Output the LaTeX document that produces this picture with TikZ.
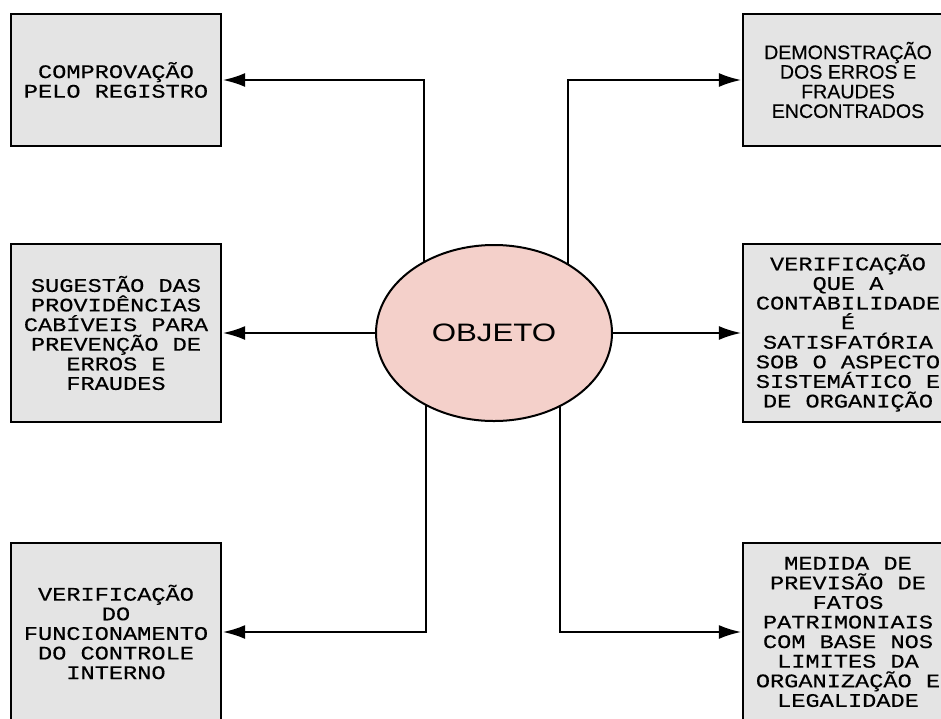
\documentclass[tikz,border=0pt]{standalone}
\usepackage{fontspec}
\newfontfamily\monofam[FakeStretch=1.23,FakeBold=0.4]{Liberation Mono}
\newfontfamily\sansfam[FakeBold=0.3]{Liberation Sans}
\newfontfamily\objfam[FakeStretch=1.24]{Liberation Sans}
\usetikzlibrary{shapes.geometric,arrows.meta,backgrounds}
\definecolor{boxgray}{RGB}{228,228,228}
\definecolor{objpink}{RGB}{244,208,202}

\tikzset{every picture/.style={line width=0.75pt}}
\tikzset{
  itembox/.style={draw, line width=2.2pt, fill=boxgray, minimum width=157.5pt, inner sep=0pt, align=center,
    font={\monofam\fontsize{14.4}{14.7}\selectfont}},
  sansbox/.style={itembox, font={\sansfam\fontsize{14.7}{14.7}\selectfont}},
  objnode/.style={ellipse, draw, line width=1.5pt, fill=objpink, minimum width=177pt, minimum height=132pt, inner sep=0pt,
    font={\objfam\fontsize{18.9}{20}\selectfont}},
  conn/.style={line width=2pt, -{Latex[length=17pt,width=10.5pt]}},
}

\begin{document}
\begin{tikzpicture}[x=0.75pt,y=0.75pt,yscale=-1,xscale=1]
\useasboundingbox (0,0) rectangle (941,718);
\clip (0,0) rectangle (941,718);

%Shape: Ellipse
\node[objnode] (obj) at (494,333) {OBJETO};

%Shape: Rectangle (left column)
\node[itembox, minimum height=99pt] (tl) at (116,80) {COMPROVAÇÃO\\PELO REGISTRO};
\node[itembox, minimum height=133.5pt] (ml) at (116,333) {SUGESTÃO DAS\\PROVIDÊNCIAS\\CABÍVEIS PARA\\PREVENÇÃO DE\\ERROS E\\FRAUDES};
\node[itembox, minimum height=133.5pt] (bl) at (116,632) {VERIFICAÇÃO\\DO\\FUNCIONAMENTO\\DO CONTROLE\\INTERNO};

%Shape: Rectangle (right column)
\node[sansbox, minimum height=99pt] (tr) at (848,80) {DEMONSTRAÇÃO\\DOS ERROS E\\FRAUDES\\ENCONTRADOS};
\node[itembox, minimum height=133.5pt] (mr) at (848,333) {VERIFICAÇÃO\\QUE A\\CONTABILIDADE\\É\\SATISFATÓRIA\\SOB O ASPECTO\\SISTEMÁTICO E\\DE ORGANIÇÃO};
\node[itembox, minimum height=133.5pt] (br) at (848,632) {MEDIDA DE\\PREVISÃO DE\\FATOS\\PATRIMONIAIS\\COM BASE NOS\\LIMITES DA\\ORGANIZAÇÃO E\\LEGALIDADE};

%bends of the connectors
\coordinate (ktl) at (424,80);
\coordinate (ktr) at (568,80);
\coordinate (kbl) at (426,632);
\coordinate (kbr) at (560,632);

\begin{scope}[on background layer]
%Straight Lines
\draw[conn] (obj.center -| ktl) -- (ktl) -- (tl.east);
\draw[conn] (obj.center -| ktr) -- (ktr) -- (tr.west);
\draw[conn] (obj.west) -- (ml.east);
\draw[conn] (obj.east) -- (mr.west);
\draw[conn] (obj.center -| kbl) -- (kbl) -- (bl.east);
\draw[conn] (obj.center -| kbr) -- (kbr) -- (br.west);
\end{scope}

\end{tikzpicture}
\end{document}
